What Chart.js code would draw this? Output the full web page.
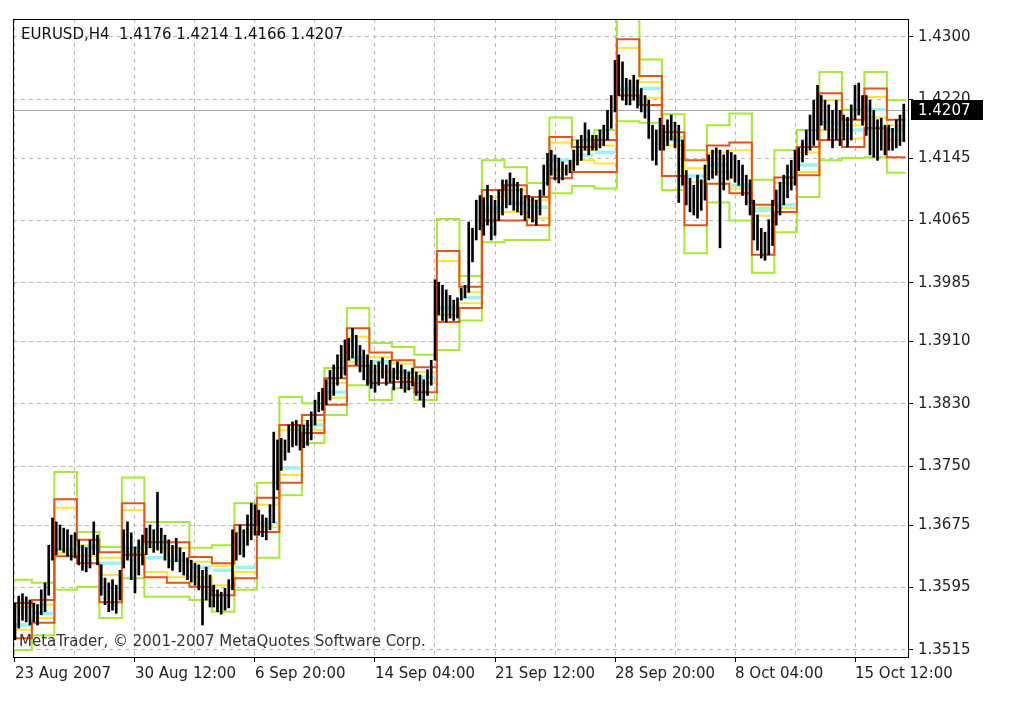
<!DOCTYPE html>
<html>
<head>
<meta charset="utf-8">
<script src="https://cdn.jsdelivr.net/npm/chart.js@4.4.0/dist/chart.umd.min.js"></script>
<style>
  html, body { margin:0; padding:0; background:#fff; }
  canvas { display:block; }
</style>
</head>
<body>
<canvas id="chart" width="1018" height="705"></canvas>
<script>
// EURUSD H4 bars, high / low per bar
const highs = [
  1.3575,1.3584,1.3587,1.3583,1.3579,
  1.3575,1.3573,1.3592,1.3601,1.3649,1.3684,
  1.3679,1.3675,1.3671,1.3669,1.3662,1.3665,
  1.3656,1.3649,1.3646,1.3656,1.3679,1.3662,
  1.3624,1.3607,1.3601,1.3605,1.3598,1.3617,
  1.3669,1.3679,1.3665,1.3647,1.3656,1.3662,
  1.3671,1.3675,1.3669,1.3717,1.3671,1.3662,
  1.3656,1.3649,1.3658,1.3646,1.3640,1.3633,
  1.3630,1.3626,1.3624,1.3617,1.3621,1.3611,
  1.3598,1.3592,1.3589,1.3594,1.3605,1.3669,
  1.3665,1.3675,1.3669,1.3688,1.3703,1.3701,
  1.3694,1.3688,1.3684,1.3701,1.3794,1.3784,
  1.3786,1.3784,1.3803,1.3807,1.3809,1.3803,
  1.3803,1.3809,1.3820,1.3835,1.3845,1.3850,
  1.3861,1.3873,1.3880,1.3893,1.3905,1.3912,
  1.3914,1.3927,1.3918,1.3905,1.3899,1.3893,
  1.3886,1.3880,1.3884,1.3889,1.3880,1.3886,
  1.3876,1.3884,1.3880,1.3874,1.3871,1.3876,
  1.3871,1.3867,1.3861,1.3874,1.3886,1.3989,
  1.3986,1.3982,1.3976,1.3969,1.3963,1.3966,
  1.3978,1.3982,1.4063,1.4055,1.4091,1.4097,
  1.4094,1.4110,1.4097,1.4091,1.4104,1.4117,
  1.4117,1.4126,1.4119,1.4114,1.4106,1.4097,
  1.4097,1.4094,1.4091,1.4104,1.4136,1.4151,
  1.4155,1.4149,1.4145,1.4140,1.4136,1.4142,
  1.4155,1.4168,1.4174,1.4190,1.4181,1.4174,
  1.4174,1.4181,1.4187,1.4206,1.4225,1.4270,
  1.4277,1.4268,1.4247,1.4245,1.4251,1.4245,
  1.4234,1.4225,1.4219,1.4187,1.4181,1.4196,
  1.4187,1.4194,1.4200,1.4191,1.4187,1.4168,
  1.4129,1.4119,1.4110,1.4123,1.4117,1.4136,
  1.4149,1.4155,1.4158,1.4155,1.4149,1.4155,
  1.4152,1.4149,1.4142,1.4136,1.4123,1.4117,
  1.4091,1.4072,1.4055,1.4050,1.4066,1.4091,
  1.4104,1.4114,1.4123,1.4136,1.4142,1.4155,
  1.4158,1.4168,1.4181,1.4200,1.4219,1.4238,
  1.4225,1.4219,1.4213,1.4206,1.4219,1.4206,
  1.4200,1.4197,1.4213,1.4238,1.4241,1.4225,
  1.4225,1.4219,1.4206,1.4194,1.4196,1.4187,
  1.4187,1.4183,1.4194,1.4200,1.4214
];
const lows = [
  1.3528,1.3543,1.3553,1.3551,1.3547,
  1.3551,1.3547,1.3560,1.3564,1.3585,1.3630,
  1.3637,1.3643,1.3640,1.3635,1.3630,1.3633,
  1.3624,1.3617,1.3615,1.3620,1.3637,1.3624,
  1.3585,1.3573,1.3564,1.3566,1.3562,1.3579,
  1.3620,1.3630,1.3605,1.3588,1.3611,1.3624,
  1.3637,1.3646,1.3640,1.3643,1.3639,1.3630,
  1.3620,1.3617,1.3628,1.3615,1.3611,1.3605,
  1.3602,1.3598,1.3592,1.3547,1.3579,1.3570,
  1.3570,1.3564,1.3561,1.3566,1.3569,1.3592,
  1.3630,1.3637,1.3634,1.3649,1.3656,1.3662,
  1.3662,1.3660,1.3656,1.3669,1.3678,1.3720,
  1.3745,1.3758,1.3768,1.3775,1.3777,1.3771,
  1.3774,1.3777,1.3784,1.3803,1.3820,1.3822,
  1.3829,1.3835,1.3841,1.3854,1.3863,1.3867,
  1.3886,1.3889,1.3880,1.3871,1.3861,1.3854,
  1.3850,1.3845,1.3854,1.3863,1.3854,1.3858,
  1.3848,1.3861,1.3850,1.3845,1.3848,1.3853,
  1.3841,1.3835,1.3826,1.3841,1.3854,1.3886,
  1.3944,1.3937,1.3935,1.3940,1.3937,1.3940,
  1.3963,1.3966,1.3973,1.4012,1.4040,1.4053,
  1.4046,1.4059,1.4040,1.4046,1.4065,1.4072,
  1.4081,1.4085,1.4078,1.4076,1.4072,1.4065,
  1.4068,1.4063,1.4059,1.4072,1.4097,1.4110,
  1.4123,1.4117,1.4113,1.4117,1.4123,1.4126,
  1.4129,1.4136,1.4142,1.4155,1.4149,1.4155,
  1.4155,1.4158,1.4161,1.4168,1.4183,1.4204,
  1.4225,1.4219,1.4213,1.4213,1.4219,1.4209,
  1.4204,1.4196,1.4170,1.4142,1.4136,1.4155,
  1.4155,1.4161,1.4168,1.4158,1.4088,1.4110,
  1.4085,1.4076,1.4072,1.4068,1.4078,1.4091,
  1.4117,1.4119,1.4123,1.4030,1.4104,1.4117,
  1.4119,1.4114,1.4110,1.4097,1.4085,1.4072,
  1.4040,1.4027,1.4017,1.4014,1.4021,1.4033,
  1.4059,1.4072,1.4085,1.4094,1.4104,1.4110,
  1.4129,1.4140,1.4149,1.4155,1.4161,1.4168,
  1.4187,1.4181,1.4168,1.4158,1.4168,1.4161,
  1.4168,1.4159,1.4168,1.4194,1.4200,1.4187,
  1.4174,1.4149,1.4146,1.4142,1.4155,1.4149,
  1.4155,1.4155,1.4158,1.4161,1.4166
];
const lastBar = [1.4176, 1.4214, 1.4166, 1.4207]; // open high low close

const xLabels = ['23 Aug 2007', '30 Aug 12:00', '6 Sep 20:00', '14 Sep 04:00',
                 '21 Sep 12:00', '28 Sep 20:00', '8 Oct 04:00', '15 Oct 12:00'];
const yTicks = [1.3515, 1.3595, 1.3675, 1.3750, 1.3830, 1.3910, 1.3985, 1.4065, 1.4145, 1.4220, 1.4300];

// daily step levels of the indicator (one value per trading day)
const greenUp  = [1.3605,1.3601,1.3743,1.3666,1.3647,1.3736,1.3679,1.3679,1.3646,1.3649,1.3703,1.3729,1.3839,1.3831,1.3876,1.3953,1.3908,1.3903,1.3893,1.4067,1.3994,1.4142,1.4133,1.4113,1.4197,1.4168,1.4181,1.4324,1.4271,1.4201,1.4155,1.4187,1.4202,1.4117,1.4155,1.4181,1.4255,1.4207,1.4255,1.4219];
const orangeUp = [1.3575,1.3579,1.3708,1.3656,1.3640,1.3703,1.3653,1.3653,1.3634,1.3626,1.3675,1.3710,1.3803,1.3816,1.3863,1.3927,1.3896,1.3886,1.3877,1.4026,1.3980,1.4104,1.4110,1.4095,1.4172,1.4159,1.4168,1.4297,1.4250,1.4178,1.4142,1.4161,1.4165,1.4085,1.4120,1.4159,1.4228,1.4194,1.4234,1.4194];
const yellowUp = [1.3570,1.3573,1.3697,1.3649,1.3633,1.3694,1.3646,1.3646,1.3628,1.3623,1.3666,1.3701,1.3797,1.3809,1.3857,1.3916,1.3890,1.3882,1.3871,1.4013,1.3973,1.4095,1.4104,1.4091,1.4165,1.4155,1.4161,1.4286,1.4242,1.4172,1.4132,1.4152,1.4155,1.4081,1.4113,1.4152,1.4219,1.4187,1.4223,1.4187];
const aquaMid  = [1.3547,1.3562,1.3644,1.3646,1.3626,1.3646,1.3633,1.3630,1.3621,1.3617,1.3621,1.3678,1.3748,1.3803,1.3845,1.3889,1.3884,1.3871,1.3864,1.3953,1.3966,1.4081,1.4087,1.4082,1.4142,1.4149,1.4152,1.4234,1.4234,1.4168,1.4122,1.4136,1.4110,1.4078,1.4085,1.4136,1.4190,1.4181,1.4207,1.4181];
const yellowDn = [1.3541,1.3556,1.3639,1.3635,1.3611,1.3640,1.3615,1.3608,1.3608,1.3598,1.3615,1.3672,1.3739,1.3797,1.3838,1.3884,1.3871,1.3864,1.3857,1.3944,1.3959,1.4076,1.4076,1.4068,1.4130,1.4142,1.4138,1.4231,1.4222,1.4161,1.4114,1.4127,1.4106,1.4071,1.4081,1.4127,1.4181,1.4170,1.4197,1.4168];
const orangeDn = [1.3530,1.3550,1.3635,1.3626,1.3576,1.3637,1.3608,1.3601,1.3596,1.3585,1.3607,1.3666,1.3729,1.3793,1.3829,1.3879,1.3857,1.3858,1.3845,1.3935,1.3953,1.4065,1.4065,1.4059,1.4119,1.4127,1.4127,1.4225,1.4213,1.4122,1.4059,1.4112,1.4100,1.4021,1.4076,1.4123,1.4168,1.4159,1.4183,1.4146];
const greenDn  = [1.3515,1.3534,1.3592,1.3596,1.3556,1.3607,1.3583,1.3583,1.3579,1.3564,1.3592,1.3633,1.3713,1.3780,1.3816,1.3854,1.3835,1.3850,1.3835,1.3899,1.3937,1.4037,1.4040,1.4040,1.4100,1.4109,1.4106,1.4192,1.4190,1.4104,1.4023,1.4088,1.4065,1.3998,1.4050,1.4095,1.4142,1.4145,1.4146,1.4126];

const BARS_PER_DAY = 6;
const dayStart = m => m === 0 ? -0.5 : m * BARS_PER_DAY - 1.5;
const dayEnd = m => m === greenUp.length - 1 ? highs.length - 0.5 : dayStart(m + 1);

function stepPoints(levels) {
  const pts = levels.map((v, m) => ({ x: dayStart(m), y: v }));
  pts.push({ x: highs.length - 0.5, y: levels[levels.length - 1] });
  return pts;
}

// separate flat pieces, one per day, no joining risers
function piecePoints(levels) {
  const pts = [];
  levels.forEach((v, m) => {
    pts.push({ x: dayStart(m) + 0.3, y: v }, { x: dayEnd(m) - 0.3, y: v }, { x: dayEnd(m) - 0.2, y: null });
  });
  return pts;
}

function stepLine(levels, color, width, order) {
  return {
    type: 'line',
    data: stepPoints(levels),
    borderColor: color,
    borderWidth: width,
    stepped: true,
    pointRadius: 0,
    fill: false,
    order: order
  };
}

Chart.defaults.font.family = "'DejaVu Sans', sans-serif";
Chart.defaults.font.size = 15;
Chart.defaults.color = '#222';

const decor = {
  id: 'decor',
  beforeDatasetsDraw(chart) {
    const { ctx, chartArea: a, scales: { y } } = chart;
    const py = Math.round(y.getPixelForValue(lastBar[3])) + 0.5;
    ctx.save();
    ctx.strokeStyle = '#a8a8a8';
    ctx.lineWidth = 1;
    ctx.beginPath();
    ctx.moveTo(a.left, py);
    ctx.lineTo(a.right, py);
    ctx.stroke();
    ctx.restore();
  },
  afterDatasetsDraw(chart) {
    const { ctx, chartArea: a } = chart;
    ctx.save();
    ctx.font = "15px 'DejaVu Sans'";
    ctx.fillStyle = '#111';
    ctx.textBaseline = 'middle';
    ctx.textAlign = 'left';
    ctx.fillText('EURUSD,H4  ' + lastBar.map(v => v.toFixed(4)).join(' '), a.left + 8, a.top + 16);
    ctx.fillStyle = '#333';
    ctx.fillText('MetaTrader, \u00a9 2001-2007 MetaQuotes Software Corp.', a.left + 6, a.bottom - 15);
    ctx.restore();
  },
  afterDraw(chart) {
    const { ctx, chartArea: a, scales: { y } } = chart;
    ctx.save();
    ctx.strokeStyle = '#000';
    ctx.lineWidth = 1;
    ctx.strokeRect(a.left + 0.5, a.top + 0.5, a.right - a.left, a.bottom - a.top);
    // current price tag
    const py = Math.round(y.getPixelForValue(lastBar[3]));
    ctx.fillStyle = '#000';
    ctx.fillRect(a.right + 3, py - 10, 72, 20);
    ctx.fillStyle = '#fff';
    ctx.font = "15px 'DejaVu Sans'";
    ctx.textBaseline = 'middle';
    ctx.fillText(lastBar[3].toFixed(4), a.right + 10, py + 1);
    ctx.restore();
  }
};

new Chart(document.getElementById('chart'), {
  type: 'bar',
  data: {
    datasets: [
      {
        type: 'bar',
        data: highs.map((h, i) => ({ x: i, y: [lows[i], h] })),
        backgroundColor: '#000',
        barThickness: 2,
        order: 0
      },
      {
        type: 'line',
        data: piecePoints(aquaMid),
        borderColor: '#9af4f4',
        borderWidth: 3.5,
        spanGaps: false,
        pointRadius: 0,
        fill: false,
        order: 1
      },
      stepLine(orangeUp, '#e2541c', 2, 2),
      stepLine(orangeDn, '#e2541c', 2, 2),
      stepLine(yellowUp, '#ffe13a', 2, 3),
      stepLine(yellowDn, '#ffe13a', 2, 3),
      stepLine(greenUp, '#a6ea36', 2, 4),
      stepLine(greenDn, '#a6ea36', 2, 4)
    ]
  },
  options: {
    responsive: false,
    animation: false,
    events: [],
    devicePixelRatio: 1,
    layout: { padding: { left: 13, top: 19, right: 0, bottom: 0 } },
    plugins: { legend: { display: false }, tooltip: { enabled: false } },
    scales: {
      x: {
        type: 'linear',
        min: -0.53,
        max: 238.13,
        offset: false,
        afterBuildTicks: ax => {
          const t = [];
          for (let v = 0; v <= 224; v += 16) t.push({ value: v });
          ax.ticks = t;
        },
        afterFit: s => { s.height = 48; },
        grid: {
          offset: false,
          color: '#b8b8b8',
          tickLength: 5,
          tickColor: c => (c.tick && c.tick.value % 32 === 0) ? '#000' : 'rgba(0,0,0,0)',
          tickBorderDash: []
        },
        border: { display: false, dash: [4, 4] },
        ticks: {
          align: 'start',
          padding: 3,
          maxRotation: 0,
          autoSkip: false,
          color: '#222',
          callback: v => v % 32 === 0 ? xLabels[v / 32] : ''
        }
      },
      y: {
        type: 'linear',
        position: 'right',
        min: 1.3506,
        max: 1.4323,
        afterBuildTicks: ax => { ax.ticks = yTicks.map(v => ({ value: v })); },
        afterFit: s => { s.width = 110; },
        grid: { color: '#b8b8b8', tickLength: 5, tickColor: '#000', tickBorderDash: [] },
        border: { display: false, dash: [4, 4] },
        ticks: { padding: 5, color: '#222', callback: v => v.toFixed(4) }
      }
    }
  },
  plugins: [decor]
});
</script>
</body>
</html>
